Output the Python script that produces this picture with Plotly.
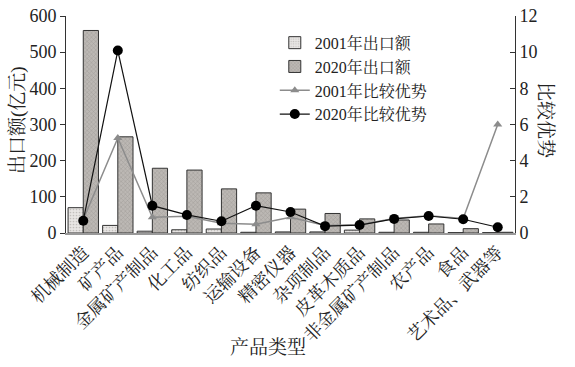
import plotly.graph_objects as go

categories = ["机械制造", "矿产品", "金属矿产制品", "化工品", "纺织品", "运输设备", "精密仪器",
              "杂项制品", "皮革木质品", "非金属矿产制品", "农产品", "食品", "艺术品、武器等"]
export_2001 = [70, 21, 5, 9, 11, 2, 3, 3, 8, 2, 2, 1, 1]
export_2020 = [560, 266, 179, 174, 122, 111, 66, 54, 39, 36, 25, 12, 2]
rca_2001 = [0.75, 5.25, 0.87, 0.92, 0.54, 0.48, 0.87, 0.42, 0.45, 0.8, 0.95, 0.8, 6.0]
rca_2020 = [0.68, 10.09, 1.51, 1.0, 0.65, 1.51, 1.16, 0.38, 0.44, 0.78, 0.94, 0.76, 0.32]

FONT = "Times New Roman, Liberation Serif, Noto Serif CJK SC, Noto Sans CJK SC"

fig = go.Figure()
fig.add_trace(go.Bar(
    x=categories, y=export_2001, name="2001年出口额",
    marker=dict(color="#e4e2e0", line=dict(color="#333333", width=1),
                pattern=dict(shape=".", size=3, solidity=0.25, fgcolor="#9a9794", bgcolor="#e8e6e4")),
))
fig.add_trace(go.Bar(
    x=categories, y=export_2020, name="2020年出口额",
    marker=dict(color="#b8b4b0", line=dict(color="#333333", width=1),
                pattern=dict(shape="x", size=3, solidity=0.3, fgcolor="#85817d", bgcolor="#bcb8b4")),
))
fig.add_trace(go.Scatter(
    x=categories, y=rca_2001, name="2001年比较优势", yaxis="y2", mode="lines+markers",
    line=dict(color="#8c8c8c", width=1.5),
    marker=dict(symbol="triangle-up", size=8, color="#8c8c8c"),
))
fig.add_trace(go.Scatter(
    x=categories, y=rca_2020, name="2020年比较优势", yaxis="y2", mode="lines+markers",
    line=dict(color="#111111", width=1.2),
    marker=dict(symbol="circle", size=10, color="#000000"),
))

fig.update_layout(
    width=575, height=367,
    margin=dict(l=66, r=60, t=16, b=134, autoexpand=False),
    plot_bgcolor="white", paper_bgcolor="white",
    font=dict(family=FONT, size=18, color="#222222"),
    barmode="group", bargap=0.12, bargroupgap=0,
    showlegend=True,
    legend=dict(x=0.465, y=0.955, xanchor="left", yanchor="top",
                bgcolor="rgba(0,0,0,0)", font=dict(family=FONT, size=16),
                tracegroupgap=0, itemwidth=30),
    xaxis=dict(range=[-0.5, 12.5], tickangle=-45, showline=True, linecolor="#999999", linewidth=1.5,
               automargin=False, ticks="", showgrid=False, tickfont=dict(family=FONT, size=18)),
    yaxis=dict(range=[0, 600], dtick=100, showline=True, linecolor="#333333", linewidth=1,
               automargin=False, ticklabeloverflow="allow",
               ticks="outside", ticklen=5, tickcolor="#333333", showgrid=False, zeroline=False,
               tickfont=dict(family=FONT, size=18)),
    yaxis2=dict(range=[0, 12], dtick=2, overlaying="y", side="right", showline=True, automargin=False,
                ticklabeloverflow="allow",
                linecolor="#333333", linewidth=1, ticks="inside", ticklen=5, tickcolor="#333333",
                showgrid=False, zeroline=False, tickfont=dict(family=FONT, size=18)),
    annotations=[
        dict(text="出口额(亿元)", xref="paper", yref="paper", x=(18 - 66) / 449, y=(233 - 120) / 217,
             xanchor="center", yanchor="middle",
             textangle=-90, showarrow=False, font=dict(family=FONT, size=19)),
        dict(text="比较优势", xref="paper", yref="paper", x=(546 - 66) / 449, y=(233 - 120) / 217,
             xanchor="center", yanchor="middle",
             textangle=90, showarrow=False, font=dict(family=FONT, size=19)),
        dict(text="产品类型", xref="paper", yref="paper", x=(268 - 66) / 449, y=(233 - 347) / 217,
             xanchor="center", yanchor="middle",
             showarrow=False, font=dict(family=FONT, size=19)),
    ],
)

fig.write_html("out.html", config={"displayModeBar": False},
               post_script="document.body.style.margin='0';document.body.style.overflow='hidden';")
